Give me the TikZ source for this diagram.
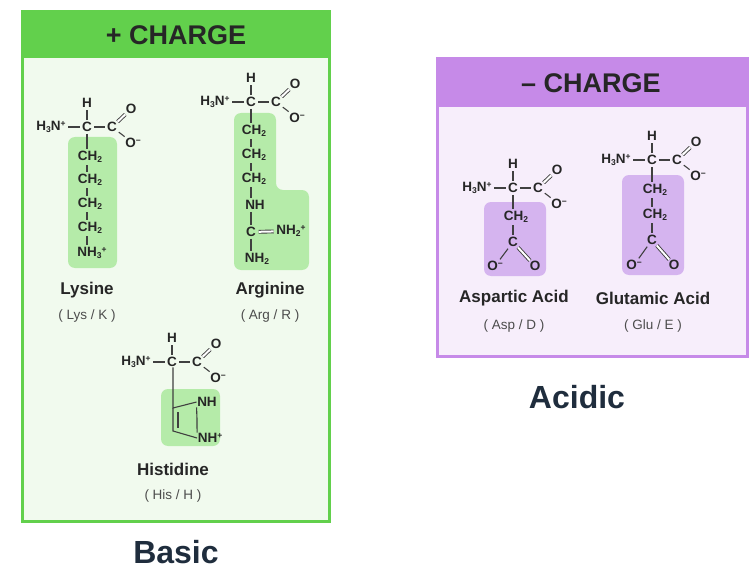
\documentclass[tikz,border=0pt]{standalone}
\usepackage{fontspec}
\setmainfont{Liberation Sans}
\definecolor{gborder}{HTML}{62D04C}
\definecolor{gfill}{HTML}{F1FAEE}
\definecolor{gbox}{HTML}{B5EBA9}
\definecolor{pborder}{HTML}{C68AE8}
\definecolor{pfill}{HTML}{F7EEFB}
\definecolor{pbox}{HTML}{D5B4EF}
\definecolor{dark}{HTML}{1F2D3D}
\tikzset{
 atom/.style={font=\bfseries\fontsize{13.5}{14}\selectfont, inner sep=0.5pt, text=black!85},
 bond/.style={line width=1.1pt, black!75, shorten <=1.5pt, shorten >=1.5pt},
 dbond/.style={line width=0.9pt, black!75, double, double distance=2pt},
 aaname/.style={font=\bfseries\fontsize{17}{19}\selectfont, text=black!85},
 abbr/.style={font=\fontsize{13.5}{15}\selectfont, text=black!70},
 hdr/.style={font=\bfseries\fontsize{27}{29}\selectfont, text=black!85},
 bigcap/.style={font=\bfseries\fontsize{32}{36}\selectfont, text=dark},
}
\newcommand{\sbs}[1]{\raisebox{-0.35ex}{\fontsize{8.5}{8}\selectfont #1}}
\newcommand{\sps}[1]{\raisebox{0.6ex}{\fontsize{8.5}{8}\selectfont #1}}
\newcommand{\backbone}[3]{%
 \path (#2,#3) node[atom] (#1ca) {C}
   +(0,-24) node[atom] (#1h) {H}
   +(-36,0) node[atom] (#1n) {H\sbs{3}N\sps{+}}
   +(25,0) node[atom] (#1c) {C}
   +(44,-18) node[atom] (#1o) {O}
   +(46,16) node[atom] (#1om) {O\sps{−}};
 \draw[bond] (#1ca) -- (#1h);
 \draw[bond] (#1ca) -- (#1n);
 \draw[bond] (#1ca) -- (#1c);
 \draw[dbond] (#1c) -- (#1o);
 \draw[bond] (#1c) -- (#1om);
}
\begin{document}
\begin{tikzpicture}[x=1pt,y=-1pt]
\useasboundingbox (0,0) rectangle (756,578);
% green panel
\draw[gborder, line width=3pt, fill=gfill] (22,12) rectangle (329,521);
\fill[gborder] (22,12) rectangle (329,58);
\node[hdr] (ph) at (176,35) {+ CHARGE};
% purple panel
\draw[pborder, line width=3pt, fill=pfill] (437,59) rectangle (747,356);
\fill[pborder] (437,59) rectangle (747,107);
\node[hdr] (nh) at (591,83) {– CHARGE};
% side chain boxes
\fill[gbox, rounded corners=7pt] (68,137) rectangle (117,268);
\fill[gbox, rounded corners=7pt] (234,113) -- (276,113) -- (276,190) -- (309,190) -- (309,270) -- (234,270) -- cycle;
\fill[gbox, rounded corners=7pt] (161,389) rectangle (220,446);
\fill[pbox, rounded corners=7pt] (484,202) rectangle (546,276);
\fill[pbox, rounded corners=7pt] (622,175) rectangle (684,275);
% Lysine
\backbone{ly}{87}{127}
\node[atom] (ly1) at (90,157) {CH\sbs{2}};
\node[atom] (ly2) at (90,180) {CH\sbs{2}};
\node[atom] (ly3) at (90,204) {CH\sbs{2}};
\node[atom] (ly4) at (90,228) {CH\sbs{2}};
\node[atom] (ly5) at (92,253) {NH\sbs{3}\sps{+}};
\draw[bond] (lyca) -- (ly1.north -| lyca);
\draw[bond] (ly1.south -| lyca) -- (ly2.north -| lyca);
\draw[bond] (ly2.south -| lyca) -- (ly3.north -| lyca);
\draw[bond] (ly3.south -| lyca) -- (ly4.north -| lyca);
\draw[bond] (ly4.south -| lyca) -- (ly5.north -| lyca);
\node[aaname] (lyn) at (87,290) {Lysine};
\node[abbr] (lya) at (87,316) {( Lys / K )};
% Arginine
\backbone{ar}{251}{102}
\node[atom] (ar1) at (254,131) {CH\sbs{2}};
\node[atom] (ar2) at (254,155) {CH\sbs{2}};
\node[atom] (ar3) at (254,179) {CH\sbs{2}};
\node[atom] (ar4) at (255,205) {NH};
\node[atom] (ar5) at (251,232) {C};
\node[atom] (ar6) at (291,231) {NH\sbs{2}\sps{+}};
\node[atom] (ar7) at (257,259) {NH\sbs{2}};
\draw[bond] (arca) -- (ar1.north -| arca);
\draw[bond] (ar1.south -| arca) -- (ar2.north -| arca);
\draw[bond] (ar2.south -| arca) -- (ar3.north -| arca);
\draw[bond] (ar3.south -| arca) -- (ar4.north -| arca);
\draw[bond] (ar4.south -| arca) -- (ar5);
\draw[dbond, shorten <=2pt, shorten >=2pt] (ar5) -- (ar6);
\draw[bond] (ar5) -- (ar7.north -| ar5);
\node[aaname] (arn) at (270,290) {Arginine};
\node[abbr] (ara) at (270,316) {( Arg / R )};
% Histidine
\backbone{hi}{172}{362}
\coordinate (hA) at (173,408);
\coordinate (hC) at (197,419);
\coordinate (hD) at (173,431);
\node[atom] (hNH) at (207,402) {NH};
\node[atom] (hNHp) at (210,438) {NH\sps{+}};
\draw[line width=1.1pt, black!75] (hica.south -| hA) -- (hA) -- (hNH.west);
\draw[line width=1.1pt, black!75] (hNH.south west) -- (hC) -- (hNHp.north west);
\draw[line width=1.1pt, black!75] (hNHp.west) -- (hD) -- (hA);
\draw[line width=1.1pt, black!75] (178,412) -- (178,428);
\node[aaname] (hin) at (173,469) {Histidine};
\node[abbr] (hia) at (173,496) {( His / H )};
% Aspartic acid
\backbone{as}{513}{188}
\node[atom] (as1) at (516,217) {CH\sbs{2}};
\node[atom] (as2) at (513,242) {C};
\node[atom] (as3) at (495,266) {O\sps{−}};
\node[atom] (as4) at (535,266) {O};
\draw[bond] (asca) -- (as1.north -| asca);
\draw[bond] (as1.south -| as2) -- (as2);
\draw[bond] (as2) -- (as3);
\draw[dbond] (as2) -- (as4);
\node[aaname] (asn) at (514,298) {Aspartic Acid};
\node[abbr] (asa) at (514,326) {( Asp / D )};
% Glutamic acid
\backbone{gl}{652}{160}
\node[atom] (gl1) at (655,190) {CH\sbs{2}};
\node[atom] (gl2) at (655,215) {CH\sbs{2}};
\node[atom] (gl3) at (652,240) {C};
\node[atom] (gl4) at (634,265) {O\sps{−}};
\node[atom] (gl5) at (674,265) {O};
\draw[bond] (glca) -- (gl1.north -| gl3);
\draw[bond] (gl1.south -| gl3) -- (gl2.north -| gl3);
\draw[bond] (gl2.south -| gl3) -- (gl3);
\draw[bond] (gl3) -- (gl4);
\draw[dbond] (gl3) -- (gl5);
\node[aaname] (gln) at (653,298) {Glutamic Acid};
\node[abbr] (gla) at (653,326) {( Glu / E )};
% captions
\node[bigcap] (basic) at (176,552) {Basic};
\node[bigcap] (acidic) at (577,397) {Acidic};
\end{tikzpicture}
\end{document}
